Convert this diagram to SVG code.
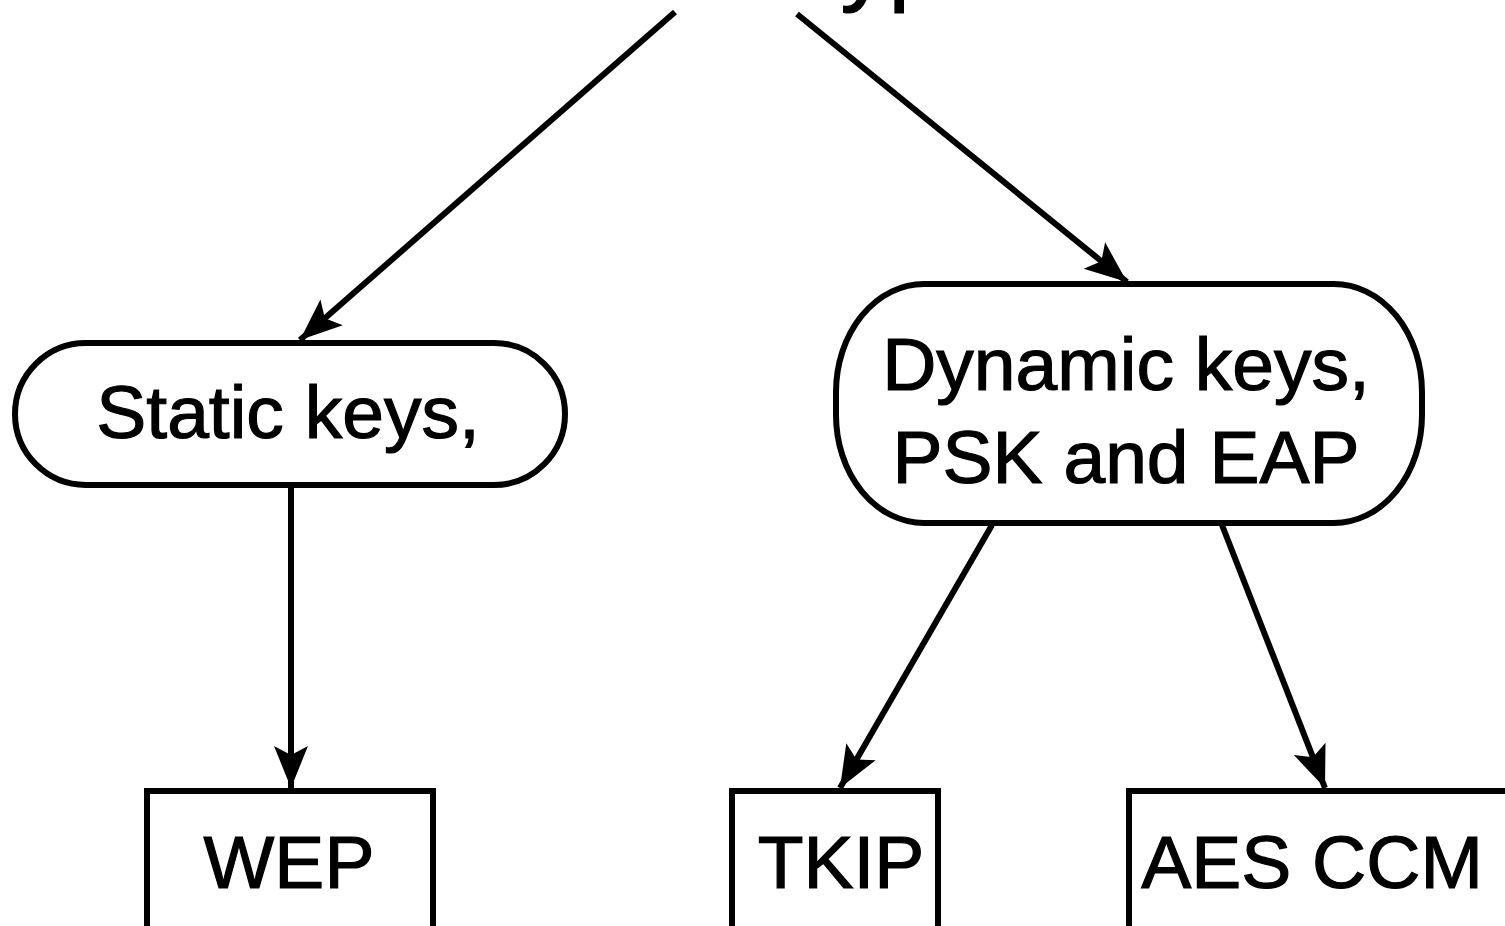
<svg xmlns="http://www.w3.org/2000/svg" width="1505" height="926" viewBox="0 0 1505 926">
  <style>
    .shape { fill: #ffffff; stroke: #000000; stroke-width: 6; }
    .label { font-family: "Liberation Sans", Arial, sans-serif; font-size: 75px; fill: #000000; stroke: #000000; stroke-width: 1.2; text-anchor: middle; }
    .edge { stroke: #000000; stroke-width: 6; fill: none; marker-end: url(#arrow); }
  </style>
  <defs>
    <marker id="arrow" markerUnits="userSpaceOnUse" markerWidth="50" markerHeight="40" viewBox="-44 -20 48 40" refX="0" refY="0" orient="auto">
      <path d="M0,0 L-42,-17 L-33,0 L-42,17 Z" fill="#000000"/>
    </marker>
  </defs>
  <rect width="1505" height="926" fill="#ffffff"/>

  <g id="title">
    <text x="643" y="-7" style="font-family: 'Liberation Sans', Arial, sans-serif; font-size: 96px; fill: #000000; stroke: #000000; stroke-width: 1.2;">Encryption</text>
  </g>

  <g id="connectors">
    <line class="edge" x1="675" y1="12" x2="300" y2="340"/>
    <line class="edge" x1="797" y1="14" x2="1127" y2="282"/>
    <line class="edge" x1="291" y1="485" x2="291" y2="788"/>
    <line class="edge" x1="992" y1="525" x2="840" y2="788"/>
    <line class="edge" x1="1222" y1="525" x2="1325" y2="788"/>
  </g>

  <g id="static">
    <rect class="shape" x="15" y="343" width="550" height="142" rx="71" ry="71"/>
    <text class="label" x="288" y="438">Static keys,</text>
  </g>

  <g id="dynamic">
    <rect class="shape" x="836" y="284" width="586" height="239" rx="88" ry="108"/>
    <text class="label" x="1126" y="390">Dynamic keys,</text>
    <text class="label" x="1126" y="483">PSK and EAP</text>
  </g>

  <g id="wep">
    <rect class="shape" x="147" y="791" width="286" height="145"/>
    <text class="label" x="289" y="888">WEP</text>
  </g>

  <g id="tkip">
    <rect class="shape" x="732" y="791" width="206" height="145"/>
    <text class="label" x="841" y="888">TKIP</text>
  </g>

  <g id="aesccm">
    <rect class="shape" x="1129" y="791" width="390" height="145"/>
    <text class="label" x="1312" y="888">AES CCM</text>
  </g>
</svg>
